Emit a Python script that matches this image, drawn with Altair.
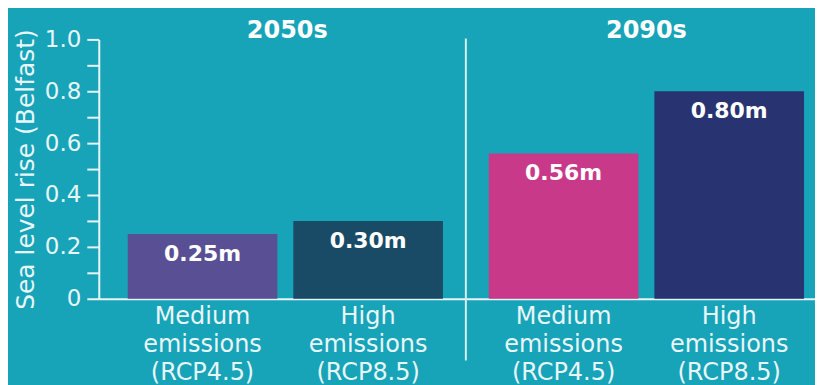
import altair as alt
import pandas as pd

# ---- data ----
periods = ["2050s", "2050s", "2090s", "2090s"]
scenarios = ["Medium|emissions|(RCP4.5)", "High|emissions|(RCP8.5)",
             "Medium|emissions|(RCP4.5)", "High|emissions|(RCP8.5)"]
series = ["2050s Medium", "2050s High", "2090s Medium", "2090s High"]
values = [0.25, 0.30, 0.56, 0.80]
value_labels = ["0.25m", "0.30m", "0.56m", "0.80m"]
scenario_order = ["Medium|emissions|(RCP4.5)", "High|emissions|(RCP8.5)"]
y_ticks = [0.0, 0.1, 0.2, 0.3, 0.4, 0.5, 0.6, 0.7, 0.8, 0.9, 1.0]
series_colors = ["#594f94", "#1a4b66", "#c9398a", "#283371"]

BG = "#17a3b8"
FG = "#e9f6f8"
FONT = "DejaVu Sans"

df = pd.DataFrame({"period": periods, "scenario": scenarios, "series": series,
                   "value": values, "label": value_labels})

PLOT_H = 260


def panel(period, width, pad_outer, align, show_y, title_x):
    d = df[df["period"] == period]
    x = alt.X(
        "scenario:N", sort=scenario_order,
        scale=alt.Scale(paddingInner=0.0964, paddingOuter=pad_outer, align=align),
        axis=alt.Axis(title=None, labelExpr="split(datum.label, '|')", ticks=False,
                      domain=True, domainColor=FG, domainWidth=2, labelAngle=0,
                      labelFont=FONT, labelFontSize=24, labelColor=FG,
                      labelLineHeight=28, labelPadding=6, labelBaseline="top"),
    )
    if show_y:
        yaxis = alt.Axis(
            values=y_ticks,
            labelExpr="round(datum.value*10) % 2 == 0 ? (datum.value == 0 ? '0' : format(datum.value, '.1f')) : ''",
            tickSize=12, tickWidth=2, tickColor=FG, domainWidth=2, domainColor=FG,
            grid=False, labelFont=FONT, labelFontSize=23, labelColor=FG,
            labelPadding=6, labelOverlap=False,
            title="Sea level rise (Belfast)", titleFont=FONT, titleFontSize=25,
            titleFontWeight="normal", titleColor=FG, titlePadding=6,
        )
    else:
        yaxis = None
    y = alt.Y("value:Q", scale=alt.Scale(domain=[0, 1], nice=False, zero=True), axis=yaxis)

    bars = alt.Chart(d).mark_bar().encode(
        x=x, y=y,
        color=alt.Color("series:N", scale=alt.Scale(domain=series, range=series_colors), legend=None),
    )
    text = alt.Chart(d).mark_text(
        font=FONT, fontSize=22, fontWeight="bold", color="white",
        baseline="middle", dy=20,
    ).encode(x=x, y=y, text="label:N")
    heading = alt.Chart(pd.DataFrame({"t": [period]})).mark_text(
        font=FONT, fontSize=24, fontWeight="bold", color="white",
        baseline="alphabetic", align="center",
    ).encode(x=alt.value(title_x), y=alt.value(-1), text="t:N")
    layers = [bars, text, heading]
    if not show_y:
        divider = alt.Chart(pd.DataFrame({"d": [0]})).mark_rule(
            color="#d4eef2", strokeWidth=2
        ).encode(x=alt.value(0), y=alt.value(-1), y2=alt.value(PLOT_H + 62))
        layers.append(divider)
    return alt.layer(*layers).properties(width=width, height=PLOT_H)


p1 = panel("2050s", 367, 0.1536, 0.569, True, 189)
p2 = panel("2090s", 350, 0.1024, 0.676, False, 181)

chart = alt.hconcat(p1, p2, spacing=0).configure(
    background=BG,
    padding={"left": 5, "right": 0, "top": 11, "bottom": 0},
).configure_view(stroke=None)

chart.save("out.html", embed_options={"renderer": "svg", "actions": False})
